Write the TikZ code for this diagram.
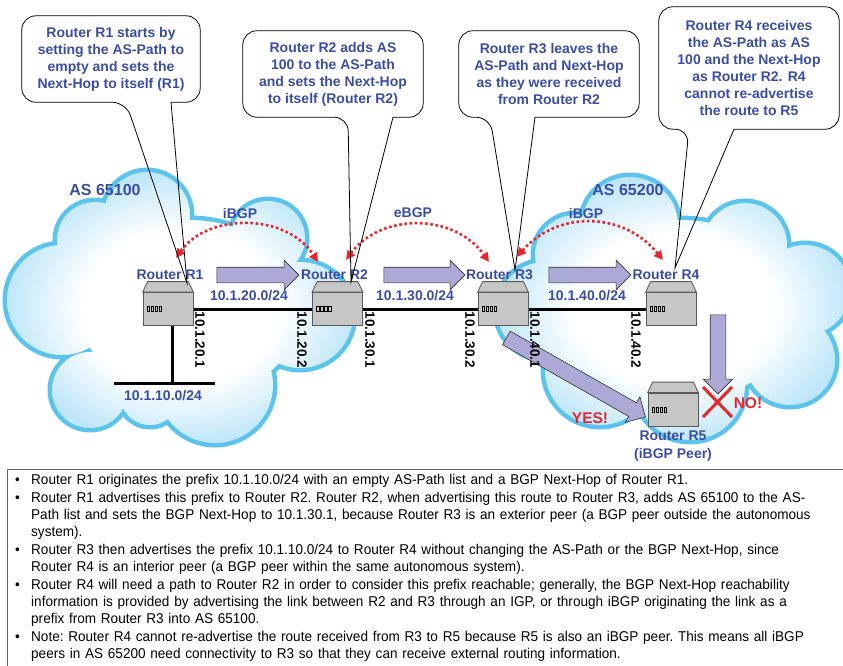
\documentclass[tikz,border=0pt]{standalone}
\usepackage{fontspec}
\setmainfont{Liberation Sans}
\newfontfamily\notefont[FakeStretch=0.955]{Liberation Sans}
\usetikzlibrary{arrows.meta,positioning,shapes.arrows,calc}
\definecolor{asblue}{HTML}{3A4DA6}
\definecolor{lavender}{HTML}{ACA9D6}
\definecolor{rim}{HTML}{5CC4EC}
\definecolor{glow}{HTML}{BEE6F8}
\definecolor{alert}{HTML}{E8262C}
\definecolor{box}{HTML}{C6C6C6}
\pgfdeclareradialshading{cloudglow}{\pgfpoint{0bp}{0bp}}{color(0bp)=(white); color(14bp)=(white); color(25bp)=(glow); color(50bp)=(glow)}
\newcommand\notepoint{\par\hangindent=19pt\hangafter=1\noindent\makebox[19pt][l]{\hspace{3pt}\textbullet}}

\begin{document}
\begin{tikzpicture}[x=1pt,y=-1pt,
  westcloud/.style={insert path={(147,215) circle (43pt) (268,238) circle (37pt) (300,315) circle (53pt)
    (215,385) circle (58pt) (150,395) circle (30pt) (90,390) circle (38pt) (62,300) circle (55pt)
    (95,240) circle (38pt) (190,310) ellipse (110pt and 90pt)}},
  eastcloud/.style={insert path={(630,225) circle (48pt) (575,255) circle (40pt) (545,310) circle (48pt)
    (600,370) circle (55pt) (690,385) circle (55pt) (790,360) circle (45pt) (805,290) circle (45pt)
    (745,245) circle (42pt) (680,310) ellipse (120pt and 90pt)}},
  router/.style={rectangle,draw=black!65,fill=box,line width=0.8pt,minimum width=50pt,minimum height=33pt,inner sep=0pt},
  port/.style={draw=black,fill=box,line width=0.5pt},
  link/.style={line width=3pt},
  lbl/.style={text=asblue,font=\bfseries\fontsize{14}{18}\selectfont,inner sep=0pt},
  addr/.style={font=\bfseries\fontsize{13.5}{16}\selectfont,inner sep=0pt,rotate=-90},
  blockarrow/.style={single arrow,draw=black!80,fill=lavender,line width=0.6pt,inner xsep=0pt,inner ysep=7.5pt,
    single arrow head extend=7pt,minimum height=#1},
  bgp/.style={alert,line width=2.6pt,dash pattern=on 2.6pt off 2.6pt,
    {Triangle[length=9pt,width=9pt]}-{Triangle[length=9pt,width=9pt]}},
  note/.style={text=asblue,font=\bfseries\fontsize{14}{17}\selectfont,align=center,inner sep=0pt},
  bubble/.style={draw=black,line width=0.8pt},
  shout/.style={text=alert,font=\bfseries\fontsize{15.5}{18}\selectfont,inner sep=0pt}]
\useasboundingbox (0,0) rectangle (843,665);

% the two autonomous systems
\draw[rim,line width=9pt,westcloud];
\draw[rim,line width=9pt,eastcloud];
\begin{scope}
  \clip[westcloud];
  \shade[shading=cloudglow] (5,170) rectangle (356,446);
\end{scope}
\begin{scope}
  \clip[eastcloud];
  \shade[shading=cloudglow] (495,175) rectangle (852,442);
\end{scope}
\node[lbl,font=\bfseries\fontsize{16}{18}\selectfont] (as1) at (105,190) {AS 65100};
\node[lbl,font=\bfseries\fontsize{16}{18}\selectfont] (as2) at (628,190) {AS 65200};

% links
\coordinate (lan) at (172,383);
\coordinate (lanw) at (114,383);
\coordinate (lane) at (215,383);
\draw[link] (168,309) -- (671,309);
\draw[link] (lan |- 309,309) -- (lan);
\draw[link] (lanw) -- (lane);

% routers
\foreach \n/\x/\y in {r1/168/309, r2/337.5/309, r3/503/309, r4/671/309, r5/673/409.5}{
  \node[router] (\n) at (\x,\y) {};
  \draw[draw=black!65,fill=box,line width=0.8pt] (\n.north west) -- ++(5,-10.5) -- ($(\n.north east)+(-5,-10.5)$) -- (\n.north east) -- cycle;
  \foreach \k in {0,...,3}
    \draw[port] ($(\n.west)+(4.5+\k*4,-2.5)$) rectangle ++(2.6,5);
}

% updates sent along the chain
\node[blockarrow=82pt] (a12) at (254,275) {};
\node[blockarrow=81pt] (a23) at (420.5,275) {};
\node[blockarrow=82pt] (a34) at (586,275) {};
\node[blockarrow=79pt,rotate=-90] (a45) at (718,350.5) {};
\node[blockarrow=160pt,rotate=-29.6] (a35) at (572.5,375.5) {};

% labels
\foreach \n/\x/\t in {rl1/170/1, rl2/334.5/2, rl3/499.5/3, rl4/666/4}
  \node[lbl] (\n) at (\x,275) {Router R\t};
\node[lbl,align=center,below=4pt of r5] (rl5) {Router R5\\(iBGP Peer)};
\foreach \n/\x/\t in {s20/249/20, s30/415/30, s40/587/40}
  \node[lbl] (\n) at (\x,296) {10.1.\t.0/24};
\node[lbl] (s10) at (163,396) {10.1.10.0/24};
\foreach \n/\x/\t in {i1/200/20.1, i2/302/20.2, i3/370/30.1, i4/470/30.2, i5/535/40.1, i6/636/40.2}
  \node[addr] (\n) at (\x,340) {10.1.\t};

% BGP sessions
\draw[bgp] ([shift={(6,-12)}]rl1.north) .. controls +(32,-45) and +(-32,-49) .. ([shift={(-16.5,-8)}]rl2.north);
\draw[bgp] ([shift={(11.5,-10)}]rl2.north) .. controls +(35,-47) and +(-35,-49) .. ([shift={(-10.5,-8)}]rl3.north);
\draw[bgp] ([shift={(17.5,-13)}]rl3.north) .. controls +(40,-46) and +(-40,-49) .. ([shift={(-3,-10)}]rl4.north);
\node[lbl] (ibgp1) at (240,213) {iBGP};
\node[lbl] (ebgp) at (413,213) {eBGP};
\node[lbl] (ibgp2) at (586,213) {iBGP};

% callouts
\node[note,minimum width=178pt,minimum height=86pt] (note1) at (111,59)
  {Router R1 starts by\\setting the AS-Path to\\empty and sets the\\Next-Hop to itself (R1)};
\node[note,minimum width=180pt,minimum height=86pt] (note2) at (333,74)
  {Router R2 adds AS\\100 to the AS-Path\\and sets the Next-Hop\\to itself (Router R2)};
\node[note,minimum width=180pt,minimum height=86pt] (note3) at (549,74)
  {Router R3 leaves the\\AS-Path and Next-Hop\\as they were received\\from Router R2};
\node[note,minimum width=180pt,minimum height=122pt] (note4) at (749,68)
  {Router R4 receives\\the AS-Path as AS\\100 and the Next-Hop\\as Router R2. R4\\cannot re-advertise\\the route to R5};
\coordinate (tip1) at (187,283);
\coordinate (tip2) at (351,282);
\coordinate (tip3) at (515,270);
\coordinate (tip4) at (675,268);
\foreach \i/\a/\b in {1/15/60, 2/15/60, 3/-59/-14, 4/-60/-15}
  \draw[bubble] ([xshift=\b pt]note\i.south) [rounded corners=14pt] -- (note\i.south east) -- (note\i.north east)
    -- (note\i.north west) -- (note\i.south west) -- ([xshift=\a pt]note\i.south) [sharp corners] -- (tip\i) -- cycle;

% R5 only hears the route from R3
\draw[alert,line width=3pt] (703,387) -- (732,417) (703,417) -- (732,387);
\node[shout] (yes) at (590,418) {YES!};
\node[shout] (no) at (748,403) {NO!};

% explanation
\draw[black!60,line width=1pt] (7,680) -- (7,469) -- (850,469);
\node[anchor=north west,inner sep=0pt,text width=830pt,align=left,
  font=\notefont\fontsize{14.2}{16.8}\selectfont] (notes) at (12,466) {\setlength\parskip{1.5pt}\frenchspacing
\notepoint Router R1 originates the prefix 10.1.10.0/24 with an empty AS-Path list and a BGP Next-Hop of Router R1.
\notepoint Router R1 advertises this prefix to Router R2. Router R2, when advertising this route to Router R3, adds AS 65100 to the AS-\newline
Path list and sets the BGP Next-Hop to 10.1.30.1, because Router R3 is an exterior peer (a BGP peer outside the autonomous\newline
system).
\notepoint Router R3 then advertises the prefix 10.1.10.0/24 to Router R4 without changing the AS-Path or the BGP Next-Hop, since\newline
Router R4 is an interior peer (a BGP peer within the same autonomous system).
\notepoint Router R4 will need a path to Router R2 in order to consider this prefix reachable; generally, the BGP Next-Hop reachability\newline
information is provided by advertising the link between R2 and R3 through an IGP, or through iBGP originating the link as a\newline
prefix from Router R3 into AS 65100.
\notepoint Note: Router R4 cannot re-advertise the route received from R3 to R5 because R5 is also an iBGP peer. This means all iBGP\newline
peers in AS 65200 need connectivity to R3 so that they can receive external routing information.\par};
\end{tikzpicture}
\end{document}
